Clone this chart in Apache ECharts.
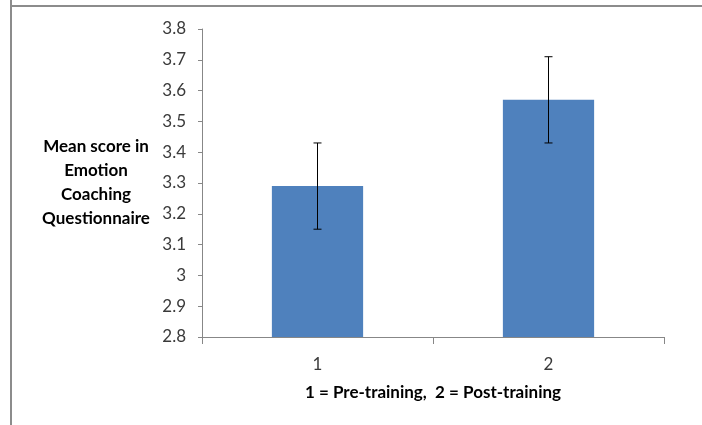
<!DOCTYPE html>
<html>
<head>
<meta charset="utf-8">
<script src="https://cdn.jsdelivr.net/npm/echarts@6/dist/echarts.min.js"></script>
<style>
html,body{margin:0;padding:0;background:#fff;}
#chart{width:702px;height:425px;}
</style>
</head>
<body>
<div id="chart"></div>
<script>
const categories = ['1', '2'];
const means = [3.29, 3.57];
const errLow = [3.15, 3.43];
const errHigh = [3.43, 3.71];
const yTicks = [2.8, 2.9, 3.0, 3.1, 3.2, 3.3, 3.4, 3.5, 3.6, 3.7, 3.8];
const xTitle = '1 = Pre-training,  2 = Post-training';
const yTitle = 'Mean score in\nEmotion\nCoaching\nQuestionnaire';

const FONT = 'Lato';
const chart = echarts.init(document.getElementById('chart'));
chart.setOption({
  animation: false,
  backgroundColor: '#fff',
  graphic: [
    { type: 'line', shape: { x1: 11, y1: 0, x2: 11, y2: 425 }, style: { stroke: '#8c8c8c', lineWidth: 2 } },
    { type: 'line', shape: { x1: 10, y1: 6, x2: 702, y2: 6 }, style: { stroke: '#8c8c8c', lineWidth: 2 } }
  ],
  grid: { left: 202, right: 38, top: 29, bottom: 88, containLabel: false },
  xAxis: {
    type: 'category',
    data: categories,
    name: xTitle,
    nameLocation: 'middle',
    nameGap: 47,
    nameTextStyle: { fontFamily: FONT, fontWeight: 'bold', fontSize: 17, color: '#000' },
    axisLine: { lineStyle: { color: '#878787', width: 1 } },
    axisTick: { show: true, length: 7, lineStyle: { color: '#878787' } },
    axisLabel: { fontFamily: FONT, fontSize: 17, color: '#3a3a3a', margin: 19 },
    splitLine: { show: false }
  },
  yAxis: {
    type: 'value',
    min: yTicks[0],
    max: yTicks[yTicks.length - 1],
    interval: 0.1,
    name: yTitle,
    nameLocation: 'middle',
    nameRotate: 0,
    nameGap: 106,
    nameTextStyle: { fontFamily: FONT, fontWeight: 'bold', fontSize: 17, color: '#000', align: 'center', lineHeight: 24 },
    axisLine: { show: true, lineStyle: { color: '#878787', width: 1 } },
    axisTick: { show: true, length: 4, lineStyle: { color: '#878787' } },
    axisLabel: {
      fontFamily: FONT, fontSize: 17, color: '#3a3a3a', margin: 16,
      formatter: v => { const r = Math.round(v * 10) / 10; return yTicks.includes(r) ? String(r) : ''; }
    },
    splitLine: { show: false }
  },
  series: [
    {
      type: 'bar',
      data: means,
      barWidth: '39.5%',
      itemStyle: { color: '#4f81bd' }
    },
    {
      type: 'custom',
      data: categories.map((c, i) => [i, errLow[i], errHigh[i]]),
      z: 10,
      renderItem: function (params, api) {
        const x = api.value(0);
        const lo = api.coord([x, api.value(1)]);
        const hi = api.coord([x, api.value(2)]);
        const hw = 4;
        const st = { stroke: '#000', lineWidth: 1 };
        return {
          type: 'group',
          children: [
            { type: 'line', shape: { x1: lo[0], y1: lo[1], x2: hi[0], y2: hi[1] }, style: st },
            { type: 'line', shape: { x1: hi[0] - hw, y1: hi[1], x2: hi[0] + hw, y2: hi[1] }, style: st },
            { type: 'line', shape: { x1: lo[0] - hw, y1: lo[1], x2: lo[0] + hw, y2: lo[1] }, style: st }
          ]
        };
      }
    }
  ]
});
</script>
</body>
</html>
